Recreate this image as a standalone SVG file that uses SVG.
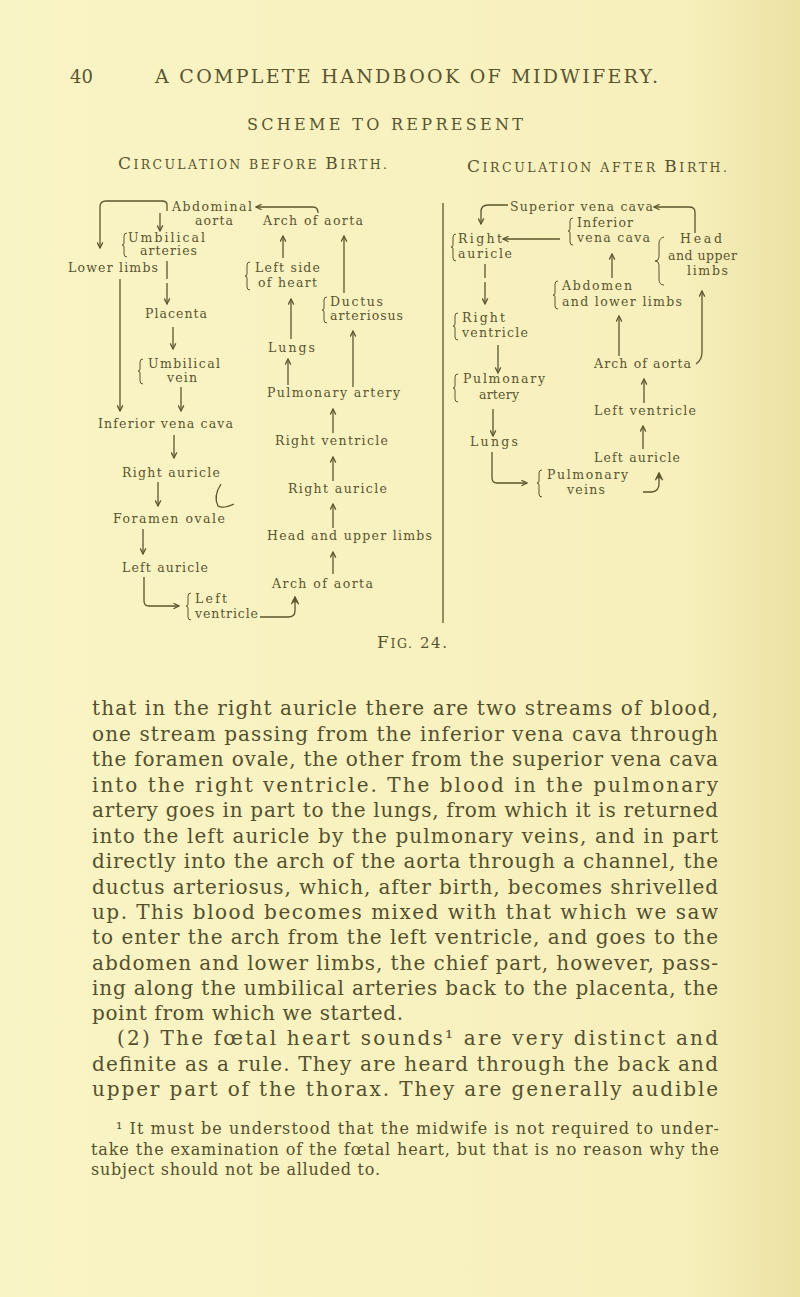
<svg xmlns="http://www.w3.org/2000/svg" width="800" height="1297" viewBox="0 0 800 1297">
<defs>
<linearGradient id="bg" x1="0" y1="0" x2="1" y2="0">
<stop offset="0" stop-color="#F9F4C5"/>
<stop offset="0.85" stop-color="#F7F0BD"/>
<stop offset="1" stop-color="#ECE1A3"/>
</linearGradient>
<marker id="ah" viewBox="0 0 10 10" refX="9" refY="5" markerWidth="7" markerHeight="7" markerUnits="userSpaceOnUse" orient="auto">
<path d="M1,1 L9,5 L1,9" fill="none" stroke="#5B552D" stroke-width="1.8"/>
</marker>
<marker id="ah2" viewBox="0 0 10 10" refX="9" refY="5" markerWidth="9" markerHeight="9" markerUnits="userSpaceOnUse" orient="auto">
<path d="M1,1 L9,5 L1,9 M3,3.5 L7,5 L3,6.5" fill="none" stroke="#5B552D" stroke-width="1.6"/>
</marker>
<style>
.lb{font-family:"DejaVu Serif","Liberation Serif",serif;font-size:12.5px;fill:#5B552D}
.hd{font-family:"DejaVu Serif","Liberation Serif",serif;fill:#5B552D}
.bd{font-family:"DejaVu Serif","Liberation Serif",serif;font-size:20px;fill:#55502A}
.fn{font-family:"DejaVu Serif","Liberation Serif",serif;font-size:16px;fill:#55502A}
.cn{fill:none;stroke:#5B552D;stroke-width:1.3}
.ar{marker-end:url(#ah)}
.ar2{marker-end:url(#ah2)}
.br{fill:none;stroke:#5B552D;stroke-width:1}
</style>
</defs>
<rect width="800" height="1297" fill="url(#bg)"/>

<g id="page-header">
<text class="hd" x="70" y="83" font-size="18">40</text>
<text class="hd" x="155" y="83" font-size="19" textLength="503" lengthAdjust="spacing">A COMPLETE HANDBOOK OF MIDWIFERY.</text>
<text class="hd" x="247" y="130" font-size="16" textLength="276" lengthAdjust="spacing">SCHEME TO REPRESENT</text>
</g>

<g id="title-before">
<text class="hd" x="118" y="169" textLength="269" lengthAdjust="spacing"><tspan font-size="17">C</tspan><tspan font-size="12.5">IRCULATION BEFORE </tspan><tspan font-size="17">B</tspan><tspan font-size="12.5">IRTH.</tspan></text>
</g>
<g id="title-after">
<text class="hd" x="467" y="172" textLength="260" lengthAdjust="spacing"><tspan font-size="17">C</tspan><tspan font-size="12.5">IRCULATION AFTER </tspan><tspan font-size="17">B</tspan><tspan font-size="12.5">IRTH.</tspan></text>
</g>

<g id="divider"><path d="M443,203 L443,623" stroke="#5B552D" stroke-width="1.3"/></g>

<!-- before birth nodes -->
<g id="b-abdominal-aorta">
<text class="lb" x="172" y="211" textLength="80" lengthAdjust="spacing">Abdominal</text>
<text class="lb" x="195" y="225" textLength="38" lengthAdjust="spacing">aorta</text>
</g>
<g id="b-umbilical-arteries">
<path class="br" d="M127,233 Q124,233 124,236 L124,243 Q124,245 122,245 Q124,245 124,247 L124,254 Q124,257 127,257"/>
<text class="lb" x="128" y="242" textLength="77" lengthAdjust="spacing">Umbilical</text>
<text class="lb" x="140" y="255" textLength="57" lengthAdjust="spacing">arteries</text>
</g>
<g id="b-lower-limbs">
<text class="lb" x="68" y="272" textLength="90" lengthAdjust="spacing">Lower limbs</text>
</g>
<g id="b-placenta">
<text class="lb" x="145" y="318" textLength="62" lengthAdjust="spacing">Placenta</text>
</g>
<g id="b-umbilical-vein">
<path class="br" d="M143,359 Q140,359 140,362 L140,369 Q140,371 138,371 Q140,371 140,373 L140,381 Q140,384 143,384"/>
<text class="lb" x="148" y="368" textLength="72" lengthAdjust="spacing">Umbilical</text>
<text class="lb" x="167" y="382" textLength="30" lengthAdjust="spacing">vein</text>
</g>
<g id="b-inferior-vena-cava">
<text class="lb" x="98" y="428" textLength="135" lengthAdjust="spacing">Inferior vena cava</text>
</g>
<g id="b-right-auricle-1">
<text class="lb" x="122" y="477" textLength="98" lengthAdjust="spacing">Right auricle</text>
</g>
<g id="b-foramen-ovale">
<text class="lb" x="113" y="523" textLength="112" lengthAdjust="spacing">Foramen ovale</text>
</g>
<g id="b-left-auricle">
<text class="lb" x="122" y="572" textLength="86" lengthAdjust="spacing">Left auricle</text>
</g>
<g id="b-left-ventricle">
<path class="br" d="M191,593 Q188,593 188,596 L188,604 Q188,606 186,606 Q188,606 188,608 L188,617 Q188,620 191,620"/>
<text class="lb" x="195" y="603" textLength="32" lengthAdjust="spacing">Left</text>
<text class="lb" x="195" y="618" textLength="63" lengthAdjust="spacing">ventricle</text>
</g>
<g id="b-arch-of-aorta-top">
<text class="lb" x="263" y="225" textLength="100" lengthAdjust="spacing">Arch of aorta</text>
</g>
<g id="b-left-side-of-heart">
<path class="br" d="M250,262 Q247,262 247,265 L247,274 Q247,276 245,276 Q247,276 247,278 L247,287 Q247,290 250,290"/>
<text class="lb" x="255" y="272" textLength="65" lengthAdjust="spacing">Left side</text>
<text class="lb" x="258" y="287" textLength="59" lengthAdjust="spacing">of heart</text>
</g>
<g id="b-ductus-arteriosus">
<path class="br" d="M327,297 Q324,297 324,300 L324,308 Q324,310 322,310 Q324,310 324,312 L324,320 Q324,323 327,323"/>
<text class="lb" x="330" y="306" textLength="53" lengthAdjust="spacing">Ductus</text>
<text class="lb" x="330" y="320" textLength="73" lengthAdjust="spacing">arteriosus</text>
</g>
<g id="b-lungs">
<text class="lb" x="268" y="352" textLength="47" lengthAdjust="spacing">Lungs</text>
</g>
<g id="b-pulmonary-artery">
<text class="lb" x="267" y="397" textLength="133" lengthAdjust="spacing">Pulmonary artery</text>
</g>
<g id="b-right-ventricle">
<text class="lb" x="275" y="445" textLength="113" lengthAdjust="spacing">Right ventricle</text>
</g>
<g id="b-right-auricle-2">
<text class="lb" x="288" y="493" textLength="99" lengthAdjust="spacing">Right auricle</text>
</g>
<g id="b-head-upper-limbs">
<text class="lb" x="267" y="540" textLength="165" lengthAdjust="spacing">Head and upper limbs</text>
</g>
<g id="b-arch-of-aorta-bottom">
<text class="lb" x="272" y="588" textLength="101" lengthAdjust="spacing">Arch of aorta</text>
</g>

<!-- after birth nodes -->
<g id="a-superior-vena-cava">
<text class="lb" x="510" y="211" textLength="143" lengthAdjust="spacing">Superior vena cava</text>
</g>
<g id="a-inferior-vena-cava">
<path class="br" d="M573,218 Q570,218 570,221 L570,229 Q570,231 568,231 Q570,231 570,233 L570,242 Q570,245 573,245"/>
<text class="lb" x="577" y="227" textLength="56" lengthAdjust="spacing">Inferior</text>
<text class="lb" x="577" y="242" textLength="73" lengthAdjust="spacing">vena cava</text>
</g>
<g id="a-right-auricle">
<path class="br" d="M456,234 Q453,234 453,237 L453,245 Q453,247 451,247 Q453,247 453,249 L453,258 Q453,261 456,261"/>
<text class="lb" x="458" y="243" textLength="44" lengthAdjust="spacing">Right</text>
<text class="lb" x="458" y="258" textLength="54" lengthAdjust="spacing">auricle</text>
</g>
<g id="a-head-upper-limbs">
<path class="br" d="M664,237 Q659,238 659,244 L659,257 Q659,261 655,261 Q659,261 659,265 L659,279 Q659,285 664,285"/>
<text class="lb" x="680" y="243" textLength="42" lengthAdjust="spacing">Head</text>
<text class="lb" x="668" y="260" textLength="69" lengthAdjust="spacing">and upper</text>
<text class="lb" x="687" y="275" textLength="41" lengthAdjust="spacing">limbs</text>
</g>
<g id="a-abdomen-lower-limbs">
<path class="br" d="M558,281 Q555,281 555,284 L555,293 Q555,295 553,295 Q555,295 555,297 L555,306 Q555,309 558,309"/>
<text class="lb" x="562" y="290" textLength="70" lengthAdjust="spacing">Abdomen</text>
<text class="lb" x="562" y="306" textLength="120" lengthAdjust="spacing">and lower limbs</text>
</g>
<g id="a-right-ventricle">
<path class="br" d="M458,313 Q455,313 455,316 L455,324 Q455,326 453,326 Q455,326 455,328 L455,337 Q455,340 458,340"/>
<text class="lb" x="462" y="322" textLength="43" lengthAdjust="spacing">Right</text>
<text class="lb" x="462" y="337" textLength="66" lengthAdjust="spacing">ventricle</text>
</g>
<g id="a-arch-of-aorta">
<text class="lb" x="594" y="368" textLength="97" lengthAdjust="spacing">Arch of aorta</text>
</g>
<g id="a-pulmonary-artery">
<path class="br" d="M458,374 Q455,374 455,377 L455,386 Q455,388 453,388 Q455,388 455,390 L455,399 Q455,402 458,402"/>
<text class="lb" x="463" y="383" textLength="82" lengthAdjust="spacing">Pulmonary</text>
<text class="lb" x="479" y="399" textLength="40" lengthAdjust="spacing">artery</text>
</g>
<g id="a-left-ventricle">
<text class="lb" x="594" y="415" textLength="102" lengthAdjust="spacing">Left ventricle</text>
</g>
<g id="a-lungs">
<text class="lb" x="470" y="446" textLength="48" lengthAdjust="spacing">Lungs</text>
</g>
<g id="a-left-auricle">
<text class="lb" x="594" y="462" textLength="86" lengthAdjust="spacing">Left auricle</text>
</g>
<g id="a-pulmonary-veins">
<path class="br" d="M542,470 Q539,470 539,473 L539,481 Q539,483 537,483 Q539,483 539,485 L539,494 Q539,497 542,497"/>
<text class="lb" x="547" y="479" textLength="81" lengthAdjust="spacing">Pulmonary</text>
<text class="lb" x="567" y="494" textLength="38" lengthAdjust="spacing">veins</text>
</g>

<g id="connectors">
<!-- before birth -->
<path class="cn ar" d="M318,213 Q318,207 313,207 L256,207"/>
<path class="cn ar" d="M167,211 L167,205 Q167,201 162,201 L106,201 Q100,201 100,207 L100,248"/>
<path class="cn ar" d="M160,213 L160,231"/>
<path class="cn ar" d="M167,261 L167,279 M167,283 L167,304"/>
<path class="cn ar" d="M120,279 L120,411"/>
<path class="cn ar" d="M173,327 L173,349"/>
<path class="cn ar" d="M181,387 L181,411"/>
<path class="cn ar" d="M174,435 L174,458"/>
<path class="cn ar" d="M158,482 L158,506"/>
<path class="cn" d="M221,484 Q213,496 218,506 Q223,509 234,504"/>
<path class="cn ar" d="M143,529 L143,554"/>
<path class="cn ar" d="M144,577 L144,601 Q144,606 149,606 L179,606"/>
<path class="cn ar2" d="M260,617 L288,617 Q295,617 295,611 L295,597"/>
<path class="cn ar" d="M333,574 L333,552"/>
<path class="cn ar" d="M333,528 L333,504"/>
<path class="cn ar" d="M333,481 L333,457"/>
<path class="cn ar" d="M333,433 L333,409"/>
<path class="cn ar" d="M288,385 L288,359"/>
<path class="cn ar" d="M353,387 L353,331"/>
<path class="cn ar" d="M291,339 L291,299"/>
<path class="cn ar" d="M344,293 L344,236"/>
<path class="cn ar" d="M283,258 L283,236"/>
<!-- after birth -->
<path class="cn ar" d="M508,205 L488,205 Q481,205 481,212 L481,224"/>
<path class="cn ar" d="M695,233 L695,212 Q695,207 689,207 L654,207"/>
<path class="cn ar" d="M560,239 L503,239"/>
<path class="cn ar" d="M612,278 L612,254"/>
<path class="cn ar" d="M696,364 Q702,360 702,352 L702,291"/>
<path class="cn ar" d="M619,356 L619,316"/>
<path class="cn ar" d="M485,264 L485,278 M485,282 L485,304"/>
<path class="cn ar" d="M498,345 L498,373"/>
<path class="cn ar" d="M493,409 L493,436"/>
<path class="cn ar" d="M492,452 L492,478 Q492,483 497,483 L527,483"/>
<path class="cn ar2" d="M643,492 L652,492 Q659,491 659,484 L659,473"/>
<path class="cn ar" d="M643,449 L643,426"/>
<path class="cn ar" d="M644,403 L644,379"/>
</g>

<g id="caption">
<text class="hd" x="377" y="648" textLength="70" lengthAdjust="spacing"><tspan font-size="17">F</tspan><tspan font-size="12.5">IG.</tspan><tspan font-size="15"> 24.</tspan></text>
</g>

<g id="body-text">
<text class="bd" x="92" y="715" textLength="626" lengthAdjust="spacing">that in the right auricle there are two streams of blood,</text>
<text class="bd" x="92" y="740.5" textLength="626" lengthAdjust="spacing">one stream passing from the inferior vena cava through</text>
<text class="bd" x="92" y="766" textLength="626" lengthAdjust="spacing">the foramen ovale, the other from the superior vena cava</text>
<text class="bd" x="92" y="791.5" textLength="626" lengthAdjust="spacing">into the right ventricle.  The blood in the pulmonary</text>
<text class="bd" x="92" y="817" textLength="626" lengthAdjust="spacing">artery goes in part to the lungs, from which it is returned</text>
<text class="bd" x="92" y="842.5" textLength="626" lengthAdjust="spacing">into the left auricle by the pulmonary veins, and in part</text>
<text class="bd" x="92" y="868" textLength="626" lengthAdjust="spacing">directly into the arch of the aorta through a channel, the</text>
<text class="bd" x="92" y="893.5" textLength="626" lengthAdjust="spacing">ductus arteriosus, which, after birth, becomes shrivelled</text>
<text class="bd" x="92" y="918.5" textLength="626" lengthAdjust="spacing">up.  This blood becomes mixed with that which we saw</text>
<text class="bd" x="92" y="944" textLength="626" lengthAdjust="spacing">to enter the arch from the left ventricle, and goes to the</text>
<text class="bd" x="92" y="969.5" textLength="626" lengthAdjust="spacing">abdomen and lower limbs, the chief part, however, pass-</text>
<text class="bd" x="92" y="994.5" textLength="626" lengthAdjust="spacing">ing along the umbilical arteries back to the placenta, the</text>
<text class="bd" x="92" y="1019.5" textLength="311" lengthAdjust="spacing">point from which we started.</text>
<text class="bd" x="117" y="1045" textLength="601" lengthAdjust="spacing">(2) The fœtal heart sounds¹ are very distinct and</text>
<text class="bd" x="92" y="1070.5" textLength="626" lengthAdjust="spacing">definite as a rule.  They are heard through the back and</text>
<text class="bd" x="92" y="1096" textLength="626" lengthAdjust="spacing">upper part of the thorax.  They are generally audible</text>
</g>

<g id="footnote">
<text class="fn" x="116" y="1134" textLength="603" lengthAdjust="spacing">¹ It must be understood that the midwife is not required to under-</text>
<text class="fn" x="91" y="1155" textLength="628" lengthAdjust="spacing">take the examination of the fœtal heart, but that is no reason why the</text>
<text class="fn" x="91" y="1175" textLength="289" lengthAdjust="spacing">subject should not be alluded to.</text>
</g>
</svg>
